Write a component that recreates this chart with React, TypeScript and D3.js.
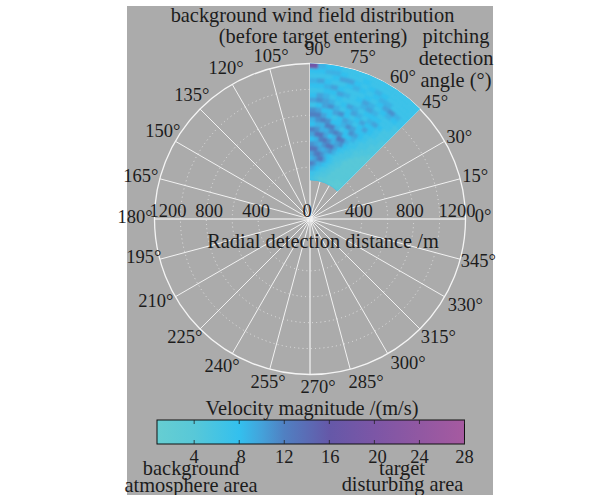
import React from 'react';
import * as d3 from 'd3';

// radial gates, outer to inner (m), and azimuth bins, 90 to 45 deg
const rangeEdges = d3.range(1200, 262.5, -37.5);
const azimuthEdges = d3.range(90, 42, -3);

const velocity = [
  [18, 9, 8, 8, 7, 7, 7, 7, 7, 7, 7, 7, 7, 7, 7],
  [8, 8, 9, 9, 8, 7, 7, 8, 7, 7, 7, 7, 7, 7, 7],
  [7, 7, 7, 8, 10, 10, 8, 7, 8, 9, 8, 7, 7, 7, 7],
  [9, 10, 8, 7, 7, 8, 9, 8, 7, 8, 9, 9, 7, 7, 7],
  [8, 8, 9, 10, 8, 7, 7, 7, 8, 7, 8, 10, 11, 9, 7],
  [7, 7, 8, 8, 10, 9, 7, 8, 10, 9, 7, 8, 9, 8, 7],
  [8, 10, 9, 7, 8, 7, 7, 7, 9, 10, 9, 7, 7, 7, 6],
  [10, 11, 10, 9, 7, 8, 10, 9, 7, 8, 8, 8, 7, 7, 6],
  [7, 8, 10, 11, 9, 7, 8, 10, 9, 7, 9, 10, 8, 6, 6],
  [11, 10, 8, 8, 10, 11, 8, 7, 8, 10, 8, 8, 7, 6, 6],
  [12, 12, 10, 8, 7, 8, 10, 9, 7, 8, 10, 8, 7, 6, 5],
  [9, 11, 12, 11, 8, 8, 9, 11, 10, 8, 8, 7, 6, 6, 5],
  [8, 9, 9, 12, 12, 9, 7, 8, 11, 10, 8, 7, 6, 5, 5],
  [12, 11, 9, 9, 11, 12, 11, 8, 8, 9, 7, 6, 6, 5, 5],
  [10, 13, 13, 10, 8, 9, 13, 12, 9, 7, 7, 6, 5, 5, 4],
  [8, 9, 12, 13, 11, 9, 10, 11, 8, 7, 6, 5, 5, 4, 4],
  [11, 10, 9, 11, 13, 13, 10, 8, 7, 6, 6, 5, 4, 4, 4],
  [13, 13, 10, 9, 10, 11, 9, 7, 6, 6, 5, 4, 4, 4, 4],
  [10, 12, 13, 11, 9, 8, 7, 6, 6, 5, 4, 4, 4, 4, 4],
  [9, 10, 12, 13, 10, 8, 7, 6, 5, 5, 4, 4, 4, 4, 4],
  [12, 11, 9, 9, 8, 7, 6, 5, 5, 4, 4, 4, 4, 4, 4],
  [10, 9, 8, 7, 6, 6, 5, 5, 4, 4, 4, 4, 4, 4, 4],
  [7, 7, 6, 6, 5, 5, 5, 4, 4, 4, 4, 3, 3, 3, 3],
  [6, 6, 5, 5, 4, 4, 4, 4, 3, 3, 3, 3, 3, 3, 3],
];

const colorStops = [0.7, 4, 8, 10, 12, 16, 20, 24, 28];
const colorValues = ['#66ced2', '#58c8d8', '#33c0ee', '#44a2da', '#5080c2', '#6558a8', '#7c56a6', '#9158a2', '#a65aa0'];

const angleTicks = d3.range(0, 360, 15);
const ringTicks = [400, 600, 800, 1000];
const rangeLabels = [1200, 800, 400, 0, 400, 800, 1200];
const rangeSides = [-1, -1, -1, 0, 1, 1, 1];
const barTicks = [4, 8, 12, 16, 20, 24, 28];

const cx = 310;
const cy = 219;
const font = '"Liberation Serif", serif';
const ink = '#1c1c1c';

const rScale = d3.scaleLinear().domain([0, 1200]).range([0, 155.5]);
const color = d3.scaleLinear<string>().domain(colorStops).range(colorValues);
const barX = d3.scaleLinear().domain([0.7, 28]).range([157, 464.5]);

const toRad = (deg: number) => ((90 - deg) * Math.PI) / 180; // d3.arc measures from 12 o'clock
const polar = (deg: number, r: number): [number, number] => [
  cx + r * Math.cos((deg * Math.PI) / 180),
  cy - r * Math.sin((deg * Math.PI) / 180),
];

// the angle labels do not sit quite on a circle in the original
const angleNudge: Record<number, [number, number]> = {
  0: [3, -3], 15: [1, 1], 30: [2, 3], 45: [5, 3], 60: [8, 5], 75: [9, 2], 90: [8, 0], 105: [5, 1],
  120: [1, -4], 135: [2, -4], 150: [0, -3], 165: [-5, 1], 180: [-5, -2], 195: [-2, -6], 210: [-7, -3],
  225: [-5, -2], 240: [-3, 0], 255: [2, -1], 270: [8, -2], 285: [12, -1], 300: [13, -3], 315: [8, -2],
  330: [8, 1], 345: [4, -2],
};
const rangeNudge = [13.5, 2.7, -2, -3, -3, -3.7, -8.5];
const barLabelNudge: Record<number, number> = { 8: 2, 16: 1, 20: 3 };

const wedge = d3.arc()({
  innerRadius: rScale(300),
  outerRadius: rScale(1200),
  startAngle: toRad(90),
  endAngle: toRad(45),
}) as string;

const App = () => {
  const gradientStops = colorStops.map((v) => ({ offset: (barX(v) - barX(0.7)) / (barX(28) - barX(0.7)), c: color(v) }));
  const cellArc = d3.arc();

  return (
    <svg width={613} height={495} style={{ position: 'absolute', left: 0, top: 0, background: '#fff', fontFamily: font }}>
      <defs>
        <filter id="soft" x="-5%" y="-5%" width="110%" height="110%">
          <feGaussianBlur stdDeviation="1" />
        </filter>
        <clipPath id="wedge-clip">
          <path d={wedge} transform={`translate(${cx},${cy})`} />
        </clipPath>
        <linearGradient id="bar-grad">
          {gradientStops.map((s) => (
            <stop key={s.offset} offset={s.offset} stopColor={s.c} />
          ))}
        </linearGradient>
      </defs>

      <rect x={127} y={6} width={366} height={489} fill="#ababab" />

      {ringTicks.map((v) => (
        <circle key={v} cx={cx} cy={cy} r={rScale(v)} fill="none" stroke="#e4e4e4" strokeWidth={1} strokeDasharray="1 3.2" />
      ))}
      {angleTicks.map((a) => {
        const [x, y] = polar(a, rScale(1200));
        const major = a % 90 === 0;
        return <line key={a} x1={cx} y1={cy} x2={x} y2={y} stroke={major ? '#e2e2e2' : '#f2f2f2'} strokeWidth={major ? 1.6 : 1} />;
      })}
      <circle cx={cx} cy={cy} r={rScale(1200)} fill="none" stroke="#f4f4f4" strokeWidth={1.3} />

      <path d={wedge} transform={`translate(${cx},${cy})`} fill="#38bce6" />
      <g clipPath="url(#wedge-clip)">
        <g filter="url(#soft)" transform={`translate(${cx},${cy})`}>
          {velocity.map((row, i) =>
            row.map((v, j) => (
              <path
                key={`${i}-${j}`}
                d={
                  cellArc({
                    innerRadius: rScale(rangeEdges[i + 1] - 3),
                    outerRadius: rScale(rangeEdges[i] + (i === 0 ? 20 : 0)),
                    startAngle: toRad(azimuthEdges[j] + (j === 0 ? 2 : 0)),
                    endAngle: toRad(azimuthEdges[j + 1] - 0.6),
                  }) as string
                }
                fill={color(v)}
              />
            ))
          )}
        </g>
      </g>

      <g fill={ink} fontSize={18.5} textAnchor="middle">
        {angleTicks.map((a) => {
          const [x, y] = polar(a, 170);
          const [dx, dy] = angleNudge[a];
          return (
            <text key={a} x={x + dx} y={y + dy + 6}>
              {a}°
            </text>
          );
        })}
        {rangeLabels.map((v, i) => (
          <text key={i} x={cx + rangeSides[i] * rScale(v) + rangeNudge[i]} y={217}>
            {v}
          </text>
        ))}
        <g fontSize={20.4}>
          <text x={323} y={248}>Radial detection distance /m</text>

          <text x={312.5} y={22}>background wind field distribution</text>
          <text x={313} y={43}>(before target entering)</text>
          <text x={456} y={43}>pitching</text>
          <text x={456} y={65}>detection</text>
          <text x={456} y={87}>angle (°)</text>

          <text x={312} y={415}>Velocity magnitude /(m/s)</text>
          <text x={191} y={475}>background</text>
          <text x={191} y={492}>atmosphere area</text>
          <text x={402} y={475}>target</text>
          <text x={402.5} y={491}>disturbing area</text>
        </g>
        {barTicks.map((t) => (
          <text key={t} x={barX(t) + (barLabelNudge[t] ?? 0)} y={463}>
            {t}
          </text>
        ))}
      </g>

      <rect x={157} y={420} width={307.5} height={24} fill="url(#bar-grad)" stroke="#111" strokeWidth={1} />
      {barTicks.map((t) => (
        <g key={t} stroke="#222" strokeWidth={0.8}>
          <line x1={barX(t)} x2={barX(t)} y1={420} y2={424} />
          <line x1={barX(t)} x2={barX(t)} y1={440} y2={444} />
        </g>
      ))}
    </svg>
  );
};

export default App;
